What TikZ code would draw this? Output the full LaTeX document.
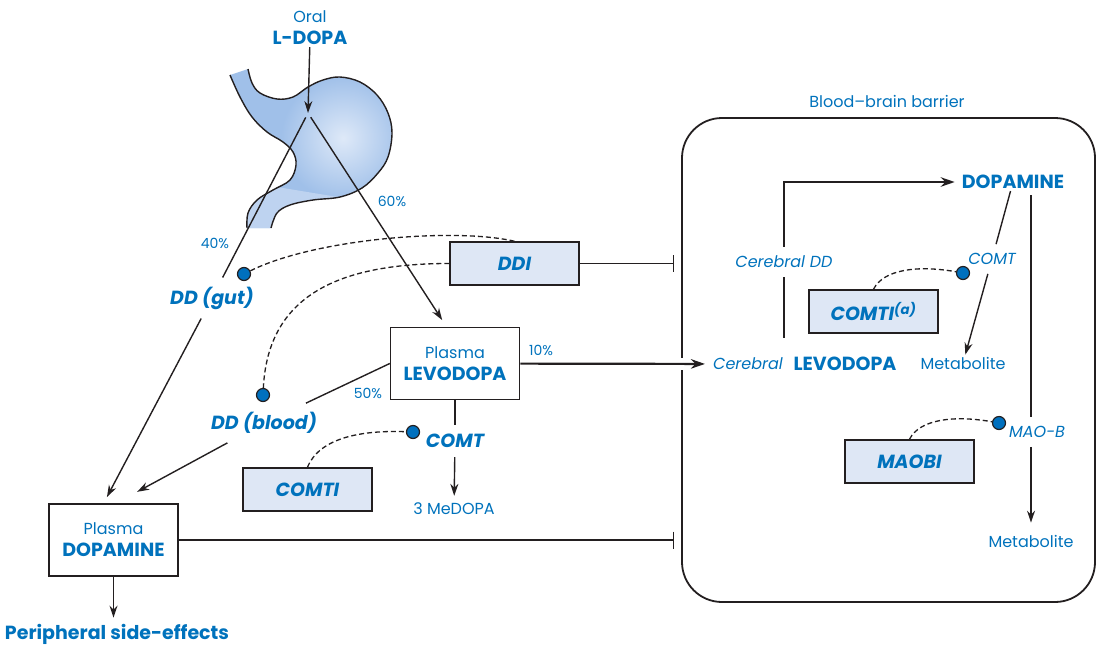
\documentclass[tikz,border=0pt]{standalone}
\usepackage{fontspec}
\setmainfont{Poppins}
\usetikzlibrary{arrows.meta,calc}

\definecolor{pjblue}{RGB}{0,114,188}
\definecolor{pjbox}{RGB}{222,231,245}
\definecolor{pjink}{RGB}{35,31,32}
\definecolor{pjdot}{RGB}{0,112,190}
\definecolor{stomach}{RGB}{160,192,233}
\definecolor{stomachhi}{RGB}{222,233,248}
\definecolor{stomachlo}{RGB}{190,211,240}

\tikzset{
	plain/.style={text=pjblue, font=\fontsize{16}{22}\selectfont, inner sep=2pt, align=center},
	heavy/.style={text=pjblue, font=\fontsize{19}{22}\selectfont\bfseries, inner sep=2pt},
	pcent/.style={text=pjblue, font=\fontsize{14}{16}\selectfont, inner sep=1pt},
	enzyme/.style={text=pjblue, font=\fontsize{19}{22}\selectfont\bfseries\itshape, inner sep=9pt},
	cenzyme/.style={text=pjblue, font=\fontsize{16}{20}\selectfont\itshape, inner sep=9pt},
	pool/.style={draw=pjink, line width=1.5pt, fill=white, minimum width=129pt, minimum height=72pt, inner sep=0pt, align=center, text=pjblue, font=\fontsize{16}{22}\selectfont},
	drug/.style={draw=pjink, line width=1.5pt, fill=pjbox, minimum width=129pt, minimum height=43pt, inner sep=0pt, text=pjblue, font=\fontsize{19}{22}\selectfont\bfseries\itshape},
	site/.style={circle, draw=pjink, line width=1.2pt, fill=pjdot, minimum size=13pt, inner sep=0pt},
	link/.style={draw=pjink, line width=1.4pt},
	flow/.style={link, -{Stealth[length=12pt,width=8pt]}},
	bigflow/.style={draw=pjink, line width=2.2pt, -{Stealth[length=14pt,width=9.5pt]}},
	block/.style={link, -{Bar[width=17pt]}, shorten >=7pt},
	inhibit/.style={draw=pjink, line width=1.3pt, dash pattern=on 5pt off 3pt},
}

\begin{document}
\begin{tikzpicture}[x=1pt,y=-1pt]
	\useasboundingbox (0,0) rectangle (1097,646);

	%%%%% STOMACH %%%%%
	\path[save path=\stomachpath]
		plot[smooth, tension=0.6] coordinates {(248,69) (252,83) (260,93) (277,99) (293,97) (308,87) (323,80) (340,77) (360,82) (377,95) (388,113) (392,133) (388,157) (378,173) (362,188) (340,197) (313,200) (290,205) (277,213) (271,228)}
		-- plot[smooth, tension=0.6] coordinates {(247,228) (248,213) (257,200) (273,190) (290,180) (296,165) (293,152) (283,142) (267,132) (252,117) (240,97) (230,75)}
		-- cycle;
	\fill[stomach, use path=\stomachpath];
	\begin{scope}
		\clip[use path=\stomachpath];
		\shade[inner color=stomachhi, outer color=stomach] (343,138) circle (62pt);
		\fill[stomachlo] (222,178) -- (350,199) -- (350,240) -- (222,240) -- cycle;
	\end{scope}
	\draw[pjink, line width=1.4pt] plot[smooth, tension=0.6] coordinates {(248,69) (252,83) (260,93) (277,99) (293,97) (308,87) (323,80) (340,77) (360,82) (377,95) (388,113) (392,133) (388,157) (378,173) (362,188) (340,197) (313,200) (290,205) (277,213) (271,228)};
	\draw[pjink, line width=1.4pt] plot[smooth, tension=0.6] coordinates {(247,228) (248,213) (257,200) (273,190) (290,180) (296,165) (293,152) (283,142) (267,132) (252,117) (240,97) (230,75)};

	%%%%% PERIPHERY %%%%%
	\node[plain] (oral) at (310,17) {Oral};
	\node[heavy] (ldopa) at (310,38) {L-DOPA};
	\coordinate (split) at (308,113);
	\node[enzyme] (ddgut) at (212,298) {DD (gut)};
	\node[pcent] (p40) at (215,243) {40\%};
	\node[pcent] (p60) at (392,201) {60\%};
	\node[pool] (plevo) at (455,363.5) {Plasma\\{\fontsize{19}{22}\selectfont\bfseries LEVODOPA}};
	\node[drug] (ddi) at (514.5,263.5) {DDI};
	\node[site] (gutsite) at (244,274) {};
	\node[site] (bloodsite) at (263,395) {};
	\node[enzyme] (ddblood) at (264,423) {DD (blood)};
	\node[pcent] (p50) at (368,393) {50\%};
	\node[pcent] (p10) at (541,350) {10\%};
	\node[enzyme] (comt) at (455,441) {COMT};
	\node[site] (comtsite) at (413,432) {};
	\node[plain] (medopa) at (454,509) {3 MeDOPA};
	\node[drug] (comti) at (307.5,489.5) {COMTI};
	\node[pool] (pdop) at (113.5,540) {Plasma\\{\fontsize{19}{22}\selectfont\bfseries DOPAMINE}};
	\node[heavy] (side) at (117,634) {Peripheral side-effects};

	%%%%% BRAIN %%%%%
	\node[draw=pjink, line width=1.8pt, rounded corners=40pt, minimum width=413pt, minimum height=484pt] (bbb) at (888.5,360) {};
	\node[plain] (bbbtxt) at (887,101) {Blood--brain barrier};
	\node[heavy] (dopa) at (1013,182) {DOPAMINE};
	\node[cenzyme] (cdd) at (784,262) {Cerebral DD};
	\node[cenzyme, inner sep=2pt] (cereb) at (748,364) {Cerebral};
	\node[heavy] (clevo) at (845,364) {LEVODOPA};
	\node[drug] (comtia) at (873.5,311.5) {COMTI\textsuperscript{(a)}};
	\node[site] (comtasite) at (963,273) {};
	\node[cenzyme] (comtb) at (992,259) {COMT};
	\node[plain] (metaba) at (963,363) {Metabolite};
	\node[drug] (maobi) at (909.5,461.5) {MAOBI};
	\node[site] (maosite) at (999,423) {};
	\node[cenzyme] (maob) at (1037,432) {MAO-B};
	\node[plain] (metabb) at (1031,541) {Metabolite};

	%%%%% ARROWS %%%%%
	\draw[flow] (ldopa) -- (split);
	\draw[link, shorten <=5pt] (split) -- (ddgut);
	\draw[flow, shorten >=7pt] (ddgut) -- (pdop.105);
	\draw[flow, shorten <=5pt, shorten >=8pt] (split) -- (plevo.103);
	\draw[link] (plevo.west) -- (ddblood);
	\draw[flow, shorten >=24pt] (ddblood) -- (pdop.86);
	\draw[link] (plevo) -- (comt);
	\draw[flow, shorten >=5pt] (comt) -- (medopa);
	\draw[flow, shorten >=4pt] (pdop.south) -- (pdop.south |- side.north);
	\draw[block] (ddi) -- (ddi -| bbb.west);
	\draw[block] (pdop) -- (pdop -| bbb.west);

	\fill[white] ($(bbb.west |- plevo.east)+(-3,-6)$) rectangle ++(6,12);
	\draw[bigflow, shorten >=6pt] (plevo) -- (cereb);

	\draw[link, line width=2.2pt, shorten <=17pt] (cdd |- clevo.north) -- (cdd);
	\draw[bigflow, shorten >=5pt] (cdd) |- (dopa);
	\draw[link] (dopa) -- (comtb);
	\draw[flow] (comtb) -- (metaba);
	\draw[link, shorten <=4pt] (dopa.south -| metabb) -- (maob.north -| metabb);
	\draw[flow, shorten >=10pt] (maob.south -| metabb) -- (metabb);

	% inhibitor actions
	\draw[inhibit] (ddi.north) .. controls +(-60,-14) and +(70,-35) .. (gutsite);
	\draw[inhibit] (ddi.west) .. controls +(-110,0) and +(5,-100) .. (bloodsite);
	\draw[inhibit] (comti.north) .. controls +(12,-30) and +(-50,-2) .. (comtsite);
	\draw[inhibit] (comtia.north) .. controls +(10,-20) and +(-45,-8) .. (comtasite);
	\draw[inhibit] (maobi.north) .. controls +(10,-20) and +(-45,-8) .. (maosite);
\end{tikzpicture}
\end{document}
